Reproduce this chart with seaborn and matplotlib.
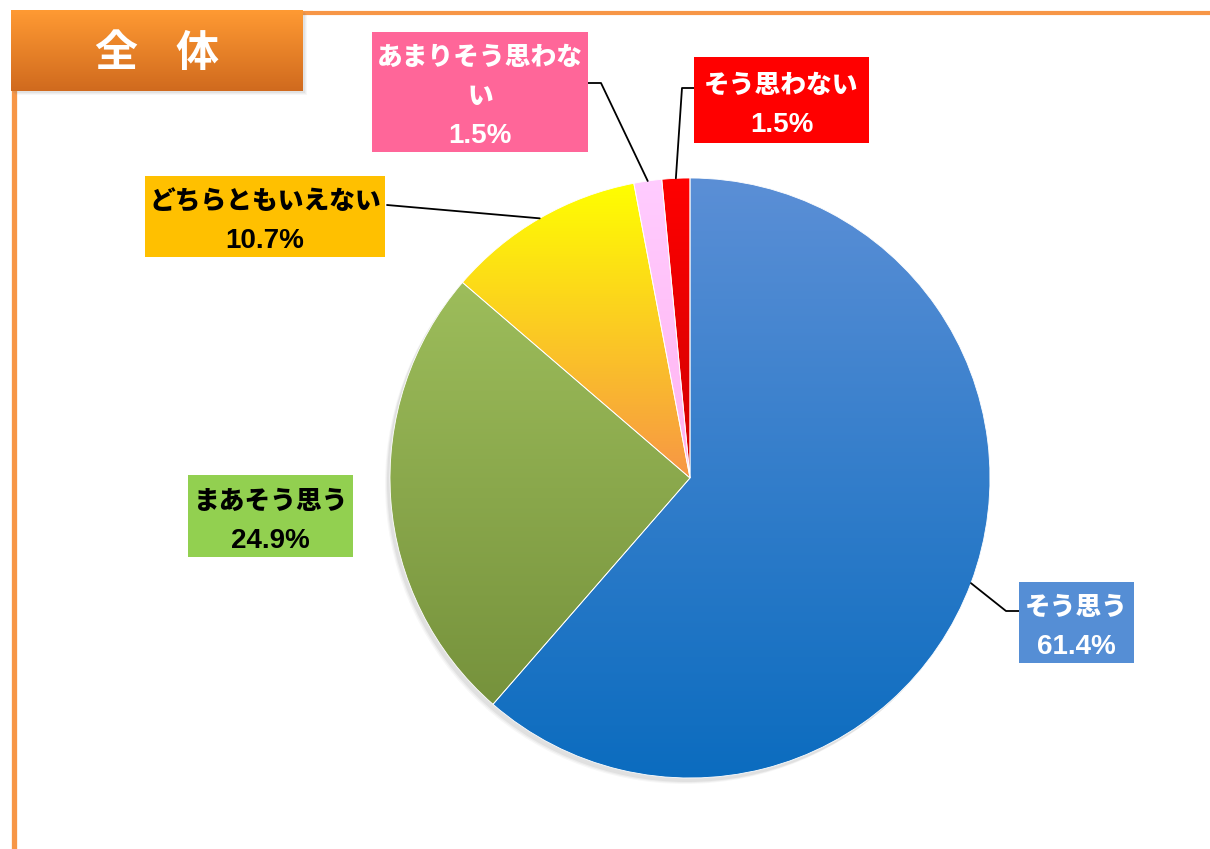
import numpy as np
import matplotlib
matplotlib.use("Agg")
import matplotlib.pyplot as plt
import seaborn as sns
from matplotlib.patches import Rectangle, Circle
from matplotlib.colors import LinearSegmentedColormap

sns.set_theme(style="white")
plt.rcParams["font.family"] = ["Noto Sans CJK JP", "DejaVu Sans"]

# ---- data ----
categories = ["そう思う", "まあそう思う", "どちらともいえない", "あまりそう思わない", "そう思わない"]
label_lines = ["そう思う", "まあそう思う", "どちらともいえない", "あまりそう思わな\nい", "そう思わない"]
values = [61.4, 24.9, 10.7, 1.5, 1.5]
title = ["全", "体"]

# slice gradients (top colour, bottom colour)
slice_top = ["#5B8FD6", "#9DBD5B", "#FFFF00", "#FFCCFF", "#FF0000"]
slice_bottom = ["#0B6CBF", "#76923C", "#F79646", "#FFB3F0", "#D00000"]

# label boxes: (left, top, width, height) in pixels, box colour, text colour
box_geom = [(1019, 582, 115, 81), (188, 475, 165, 82), (145, 176, 240, 81),
            (372, 32, 216, 120), (694, 57, 175, 86)]
box_color = ["#558ED5", "#92D050", "#FFC000", "#FF6699", "#FF0000"]
text_color = ["white", "black", "black", "white", "white"]
# leader line elbow points (None = straight / no line)
elbows = [[(1006, 611), (1019, 611)], None, [(387, 205)],
          [(601, 83), (588, 83)], [(682, 88), (694, 88)]]

W, H = 1210, 849
fig = plt.figure(figsize=(W / 100, H / 100), dpi=100)
ax = fig.add_axes([0, 0, 1, 1])
ax.set_xlim(0, W)
ax.set_ylim(0, H)
ax.set_aspect("equal")
ax.axis("off")


def py(y):
    return H - y


def vgrad(c_top, c_bot, extent, clip=None, z=2):
    cmap = LinearSegmentedColormap.from_list("g", [c_top, c_bot])
    grad = np.linspace(0, 1, 256).reshape(-1, 1)
    im = ax.imshow(grad, cmap=cmap, aspect="auto", extent=extent,
                   origin="upper", zorder=z, interpolation="bicubic")
    if clip is not None:
        im.set_clip_path(clip)
    return im


# ---- frame lines ----
ax.plot([300, W], [py(13), py(13)], color="#F79646", lw=3.0, solid_capstyle="butt", zorder=1)
ax.plot([13.5, 13.5], [py(88), 0], color="#F79646", lw=3.8, solid_capstyle="butt", zorder=1)

# ---- title box with shadow ----
for i, a in enumerate([0.10, 0.08, 0.06]):
    ax.add_patch(Rectangle((11 + 2 + i, py(91) - 2 - i), 292, 81, facecolor="gray",
                           alpha=a, lw=0, zorder=3))
tb = Rectangle((11, py(91)), 292, 81, facecolor="none", lw=0, zorder=4)
ax.add_patch(tb)
vgrad("#FF9A33", "#D06A1E", (11, 303, py(91), py(10)), clip=tb, z=4)
for ch, x in zip(title, [116, 197]):
    ax.text(x, py(53), ch, color="white", fontsize=31, fontweight="bold",
            ha="center", va="center", zorder=5)

# ---- pie ----
cx, cy, r = 690, py(478), 300
for i, a in enumerate([0.05, 0.04, 0.03]):
    ax.add_patch(Circle((cx - 3 - i, cy - 4 - i), r, facecolor="black", alpha=a, lw=0, zorder=1.5))

wedges, _ = ax.pie(values, startangle=90, counterclock=False, center=(cx, cy),
                   radius=r, frame=True,
                   wedgeprops=dict(facecolor="none", edgecolor="white", linewidth=0.6))
ax.set_xlim(0, W)
ax.set_ylim(0, H)
ax.axis("off")
for w, ct, cb in zip(wedges, slice_top, slice_bottom):
    w.set_zorder(3)
    ext = w.get_path().get_extents()
    vgrad(ct, cb, (ext.x0, ext.x1, ext.y0, ext.y1), clip=w, z=2)

# ---- labels and leader lines ----
cum = np.cumsum([0] + values[:-1])
total = sum(values)
for i, (v, name) in enumerate(zip(values, label_lines)):
    x0, y0, bw, bh = box_geom[i]
    ax.add_patch(Rectangle((x0, py(y0 + bh)), bw, bh, facecolor=box_color[i],
                           lw=0, zorder=6))
    lines = name.split("\n")
    n = len(lines) + 1
    pitch = 39
    ycen = y0 + bh / 2 + 4
    start = ycen - pitch * (n - 1) / 2
    for k, ln in enumerate(lines):
        ax.text(x0 + bw / 2, py(start + k * pitch), ln, color=text_color[i],
                fontsize=18.5, fontweight=900, ha="center", va="center", zorder=7)
    ax.text(x0 + bw / 2, py(start + (n - 1) * pitch + 1), f"{v:.1f}%",
            color=text_color[i], fontsize=20, fontweight="bold",
            family=["Liberation Sans", "DejaVu Sans"],
            ha="center", va="center", zorder=7)

    if elbows[i] is not None:
        mid = (cum[i] + v / 2) / total * 360
        ang = np.deg2rad(90 - mid)
        pts = [(cx + r * np.cos(ang), cy + r * np.sin(ang))]
        pts += [(x, py(y)) for x, y in elbows[i]]
        xs, ys = zip(*pts)
        ax.plot(xs, ys, color="black", lw=1.3, zorder=5)

fig.savefig("out.png", dpi=100, facecolor="white")
